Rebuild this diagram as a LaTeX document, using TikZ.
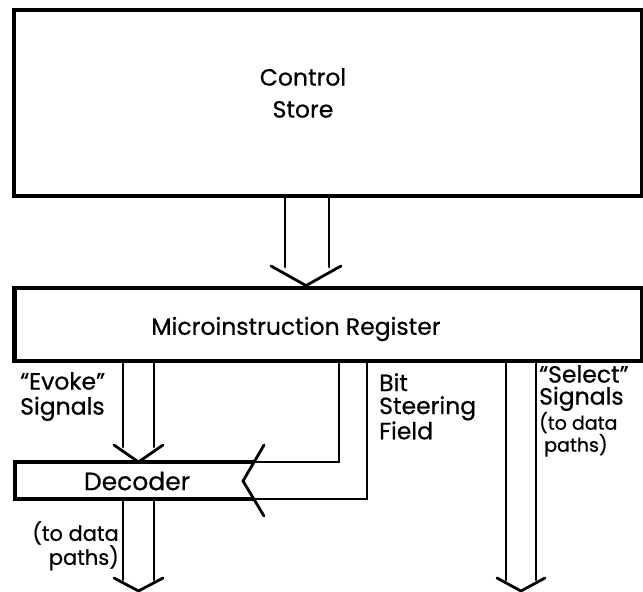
\documentclass[tikz,border=0pt]{standalone}
\usepackage{fontspec}
\setmainfont{Poppins}[FakeBold=0.6]
\usetikzlibrary{positioning}

\begin{document}
\begin{tikzpicture}[x=1pt, y=-1pt,
        box/.style={draw, line width=4.8pt, inner sep=0pt},
        shaft/.style={line width=2.8pt, line cap=round},
        lbl/.style={inner sep=0pt, align=left, font=\fontsize{23.5}{25}\selectfont},
        smalltxt/.style={font=\fontsize{16}{17}\selectfont}
]
    \useasboundingbox (0,0) rectangle (643,592);
    % boxes
    \node[box, minimum width=628pt, minimum height=186pt] (cs)  at (328,103)   {};
    \node[lbl, align=center, font=\fontsize{23.5}{32}\selectfont] (cstext)  at (303,93)  {Control\\Store};
    \node[box, minimum width=628pt, minimum height=73pt]  (mir) at (328.5,324.5) {};
    \node[lbl]                                            (mirtext) at (296,329) {Microinstruction Register};
    \node[inner sep=0pt, outer sep=0pt, minimum width=239pt, minimum height=37pt] (dec) at (134.5,480.5) {};
    \node[lbl, font=\fontsize{25}{25}\selectfont]         (dectext) at (137,481) {Decoder};
    \draw[line width=4.8pt] (dec.north east) -- (dec.north west) -- (dec.south west) -- (dec.south east);
    \coordinate (decout) at (138.5,591);
    \coordinate (selout) at (521,591);
    % control store to register
    \draw[shaft] (285,0 |- cs.south) -- (285,267);
    \draw[shaft] (329,0 |- cs.south) -- (329,267);
    \draw[shaft] (271,266) -- (306,0 |- mir.north) -- (341,266);
    % evoke signals
    \draw[shaft] (123,0 |- mir.south) -- (123,447);
    \draw[shaft] (154,0 |- mir.south) -- (154,447);
    \draw[shaft] (114,445) -- (138.5,0 |- dec.north) -- (163,445);
    % decoder out
    \draw[shaft] (123,0 |- dec.south) -- (123,580);
    \draw[shaft] (154,0 |- dec.south) -- (154,580);
    \draw[shaft] (114,578) -- (decout) -- (163,578);
    % select signals
    \draw[shaft] (506,0 |- mir.south) -- (506,580);
    \draw[shaft] (536,0 |- mir.south) -- (536,580);
    \draw[shaft] (497,578) -- (selout) -- (545,578);
    % bit steering field
    \draw[shaft] (339,0 |- mir.south) |- (dec.north east);
    \draw[shaft] (367,0 |- mir.south) |- (dec.south east);
    \draw[shaft] (264,445) -- (243,481) -- (264,516);
    % labels
    \node[lbl, anchor=north west]              (evoke)  at (20,372)  {“Evoke”\\Signals};
    \node[lbl, anchor=north east, align=right, font=\fontsize{21}{24}\selectfont] (todata) at (119,521) {(to data\\paths)};
    \node[lbl, anchor=north west, font=\fontsize{23.5}{23}\selectfont] (bsf) at (379,373) {Bit\\Steering\\Field};
    \node[lbl, anchor=north west, font=\fontsize{23.5}{22}\selectfont] (select) at (539,365) {“Select”\\Signals\\{\fontsize{19}{20}\selectfont(to data}\\{\fontsize{19}{17}\selectfont\ paths)}};
\end{tikzpicture}
\end{document}
